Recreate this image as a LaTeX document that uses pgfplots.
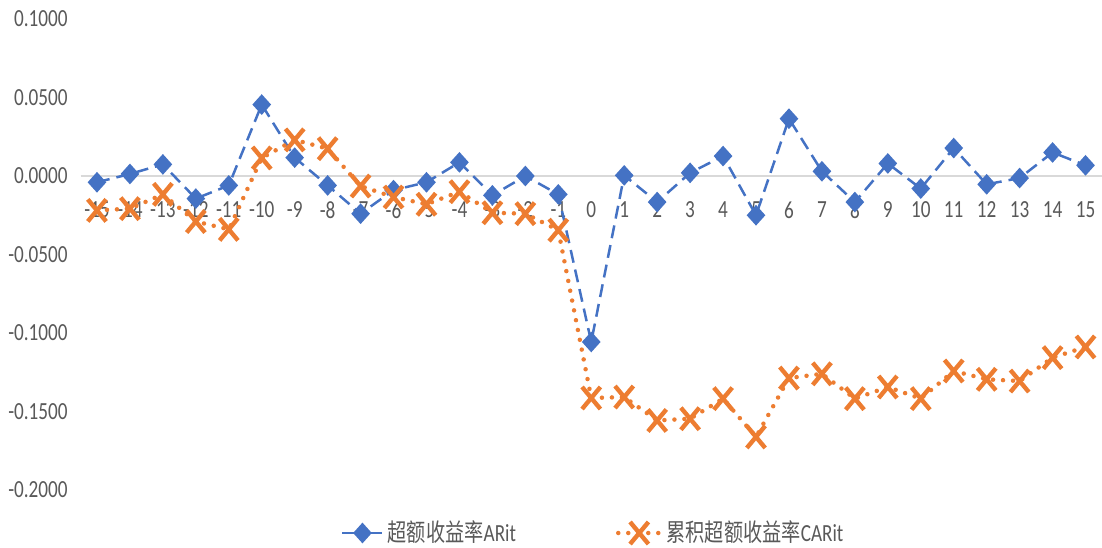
\documentclass[border=0pt]{standalone}
\usepackage{fontspec}
\setmainfont{Carlito}[FakeStretch=0.78]
\newfontfamily\cjk{Noto Sans CJK SC}[FakeStretch=0.78]
\usepackage{pgfplots}
\pgfplotsset{compat=1.18}
\definecolor{arblue}{HTML}{4472C4}
\definecolor{carorange}{HTML}{ED7D31}
\definecolor{labelgray}{HTML}{595959}
\definecolor{zerogray}{HTML}{D9D9D9}
\newcommand\lab{\fontsize{12.3}{14}\selectfont}

% Short legend samples with the mark in the middle
\pgfplotsset{
  arlegend/.style={legend image code/.code={\draw[##1, solid, mark repeat=2, mark phase=2]
    plot coordinates {(0pt,0pt) (10pt,0pt) (20pt,0pt)};}},
  carlegend/.style={legend image code/.code={\draw[##1, mark repeat=2, mark phase=2]
    plot coordinates {(0pt,0pt) (10.5pt,0pt) (21pt,0pt)};}},
}

% Abnormal returns (AR) and cumulative abnormal returns (CAR), event window -15..15
\pgfplotstableread{
t    ar       car
-15 -0.0040  -0.0219
-14  0.0013  -0.0208
-13  0.0074  -0.0117
-12 -0.0144  -0.0290
-11 -0.0060  -0.0340
-10  0.0455   0.0115
-9   0.0117   0.0230
-8  -0.0060   0.0174
-7  -0.0240  -0.0064
-6  -0.0090  -0.0134
-5  -0.0040  -0.0180
-4   0.0087  -0.0100
-3  -0.0123  -0.0234
-2   0.0000  -0.0240
-1  -0.0117  -0.0345
0   -0.1057  -0.1414
1    0.0004  -0.1408
2   -0.0166  -0.1557
3    0.0020  -0.1546
4    0.0127  -0.1418
5   -0.0250  -0.1662
6    0.0365  -0.1287
7    0.0030  -0.1260
8   -0.0166  -0.1418
9    0.0080  -0.1344
10  -0.0080  -0.1418
11   0.0178  -0.1242
12  -0.0053  -0.1295
13  -0.0013  -0.1306
14   0.0150  -0.1157
15   0.0068  -0.1089
}\returns

\begin{document}
\begin{tikzpicture}
\path[use as bounding box] (0,0) rectangle (551pt,273.5pt);
\begin{axis}[
  at={(40.25pt,28.5pt)}, anchor=south west,
  scale only axis, width=510.75pt, height=235.5pt,
  xmin=-15.5, xmax=15.5, ymin=-0.2, ymax=0.1,
  axis x line*=middle, axis y line*=left,
  x axis line style={draw=zerogray, line width=1.25pt, -},
  y axis line style={draw=none},
  hide obscured x ticks=false, hide obscured y ticks=false,
  major tick length=0pt,
  xtick={-15,-14,-13,-12,-11,-10,-9,-8,-7,-6,-5,-4,-3,-2,-1,0,1,2,3,4,5,6,7,8,9,10,11,12,13,14,15},
  xticklabels={-15,-14,-13,-12,-11,-10,-9,-8,-7,-6,-5,-4,-3,-2,-1,0,1,2,3,4,5,6,7,8,9,10,11,12,13,14,15},
  ytick={-0.2,-0.15,-0.1,-0.05,0,0.05,0.1},
  yticklabels={-0.2000,-0.1500,-0.1000,-0.0500,0.0000,0.0500,0.1000},
  tick label style={font=\lab, text=labelgray},
  xticklabel style={anchor=center, yshift=-17pt, inner sep=0pt},
  yticklabel style={anchor=east, inner sep=0pt, xshift=-6.25pt},
  clip=false,
  legend columns=2,
  legend style={at={(0.503,-0.0913)}, anchor=center, draw=none, fill=none,
    font=\lab, text=labelgray,
    /tikz/every even column/.append style={column sep=48pt}},
  legend cell align=left,
]
\addplot[draw=arblue, line width=1.25pt, dash pattern=on 6.5pt off 3.5pt,
  mark=diamond*, mark size=4.25pt,
  mark options={solid, fill=arblue, draw=arblue, xscale=1.2}, arlegend]
  table[x=t, y=ar] {\returns};
\addlegendentry{{\cjk 超额收益率}ARit}
\addplot[draw=carorange, line width=2.25pt, line cap=round, dash pattern=on 0pt off 5pt,
  mark=x, mark size=6.5pt,
  mark options={solid, draw=carorange, line width=2.2pt, line cap=butt, yscale=1.2}, carlegend]
  table[x=t, y=car] {\returns};
\addlegendentry{{\cjk 累积超额收益率}CARit}
\end{axis}
\end{tikzpicture}
\end{document}
